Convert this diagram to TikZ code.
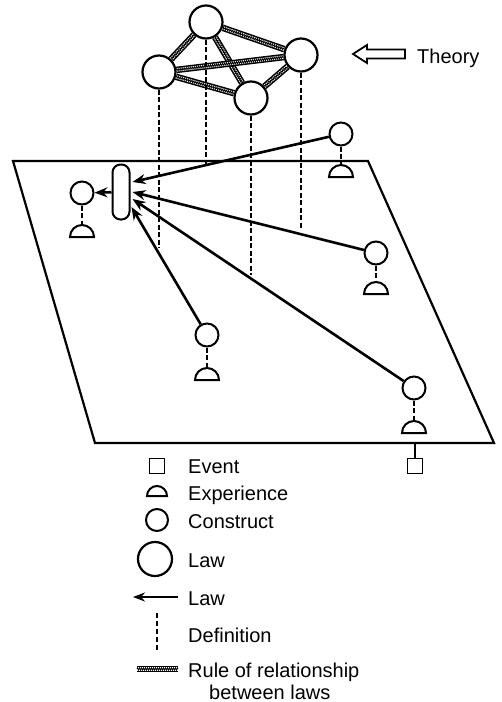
\documentclass[tikz,border=0pt]{standalone}
\usepackage{fontspec}
\setmainfont{Liberation Sans}
\usetikzlibrary{arrows.meta,shapes.geometric,backgrounds,decorations.pathmorphing,calc}
\begin{document}
\begin{tikzpicture}[x=1pt,y=-1pt,
  font=\fontsize{20}{22}\selectfont,
  law/.style={circle, draw, fill=white, line width=2.2pt, minimum size=33pt, inner sep=0pt},
  cons/.style={circle, draw, fill=white, line width=2pt, minimum size=23pt, inner sep=0pt},
  expr/.style={semicircle, draw, fill=white, line width=2pt, inner sep=0pt, minimum width=24pt, minimum height=12pt, anchor=chord center},
  evt/.style={rectangle, draw, fill=white, line width=1.9pt, minimum size=15pt, inner sep=0pt},
  oval/.style={rectangle, rounded corners=8pt, draw, fill=white, line width=2pt, minimum width=17pt, minimum height=55pt, inner sep=0pt},
  plane/.style={line width=2.2pt},
  defn/.style={line width=2pt, dash pattern=on 5pt off 2.5pt},
  lawarrow/.style={line width=2.6pt, -{Stealth[length=13pt,width=10pt]}},
  rulebar/.style={line width=6.5pt, draw=black,
     postaction={draw=white, line width=3.4pt},
     postaction={draw=black, line width=0.8pt, decorate, decoration={zigzag, segment length=2pt, amplitude=1.1pt}}},
  txt/.style={anchor=base west, inner sep=0pt}
]
\useasboundingbox (0,0) rectangle (502,702);

% ---------- theory (laws) ----------
\node[law] (L1) at (206,22) {};
\node[law] (L2) at (159,72) {};
\node[law] (L3) at (301,55) {};
\node[law] (L4) at (251,98) {};

\coordinate (d1) at (206,165);
\coordinate (d2) at (159,248);
\coordinate (d3) at (301,230);
\coordinate (d4) at (251,275);

\begin{scope}[on background layer]
  \draw[rulebar] (L1) -- (L2);
  \draw[rulebar] (L1) -- (L3);
  \draw[rulebar] (L1) -- (L4);
  \draw[rulebar] (L2) -- (L3);
  \draw[rulebar] (L2) -- (L4);
  \draw[rulebar] (L4) -- (L3);
  \draw[defn] (L1) -- (d1);
  \draw[defn] (L2) -- (d2);
  \draw[defn] (L3) -- (d3);
  \draw[defn] (L4) -- (d4);
\end{scope}

% theory arrow + label
\draw[line width=1.8pt, line join=miter] (353,54) -- (367,45) -- (367,49.5) -- (405,49.5) -- (405,58.5) -- (367,58.5) -- (367,63) -- cycle;
\node[txt] (theory) at (417,63) {Theory};

% ---------- plane ----------
\draw[plane] (13,161) -- (368,161) -- (494,443) -- (95,443) -- cycle;

\node[oval] (O) at (121,192) {};
\node[cons] (C0) at (82,193) {};
\node[expr] (E0) at (82,238) {};
\node[cons] (C1) at (341,134) {};
\node[expr] (E1) at (341,178) {};
\node[cons] (C2) at (376,253) {};
\node[expr] (E2) at (376,295) {};
\node[cons] (C3) at (207,335) {};
\node[expr] (E3) at (207,381) {};
\node[cons] (C4) at (414,388) {};
\node[expr] (E4) at (414,434) {};
\node[evt] (EV) at (415,466) {};
\coordinate (p4) at (415,443);

\draw[defn] (C0) -- (E0.apex);
\draw[defn] (C1) -- (E1.apex);
\draw[defn] (C2) -- (E2.apex);
\draw[defn] (C3) -- (E3.apex);
\draw[defn] (C4) -- (E4.apex);
\draw[line width=1.9pt] (p4) -- (EV);

\draw[lawarrow] (C1) -- ($(O.east)+(2,-10)$);
\draw[lawarrow] (C2) -- ($(O.east)+(2,0)$);
\draw[lawarrow] (C4) -- ($(O.east)+(2,7)$);
\draw[lawarrow] (C3) -- ($(O.east)+(1,15)$);
\draw[lawarrow] (O) -- (C0);

% ---------- legend ----------
\node[evt] (kEV) at (157,466) {};
\node[txt] (tEV) at (188,473) {Event};
\node[expr, minimum width=20pt, minimum height=10pt] (kEX) at (157,497) {};
\node[txt] (tEX) at (188,500) {Experience};
\node[cons, minimum size=22pt] (kC) at (157,520) {};
\node[txt] (tC) at (188,528) {Construct};
\node[law, minimum size=34pt] (kL) at (155,559) {};
\node[txt] (tL) at (188,567) {Law};
\coordinate (ka1) at (178,597);
\coordinate (ka2) at (133,597);
\draw[line width=2pt, -{Stealth[length=12pt,width=9pt]}] (ka1) -- (ka2);
\node[txt] (tA) at (188,605) {Law};
\coordinate (kd1) at (157,613);
\coordinate (kd2) at (157,652);
\draw[line width=1.8pt, dash pattern=on 5pt off 3pt] (kd1) -- (kd2);
\node[txt] (tD) at (188,642) {Definition};
\coordinate (kr1) at (137,669);
\coordinate (kr2) at (178,669);
\draw[rulebar] (kr1) -- (kr2);
\node[txt] (tR) at (188,677) {Rule of relationship};
\node[txt] (tR2) at (209,699) {between laws};
\end{tikzpicture}
\end{document}
